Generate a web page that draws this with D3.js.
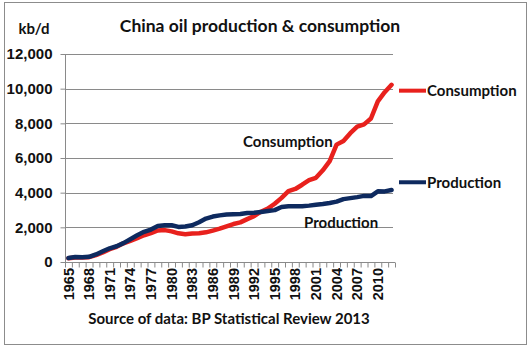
<!DOCTYPE html>
<html>
<head>
<meta charset="utf-8">
<script src="https://cdn.jsdelivr.net/npm/d3@7"></script>
<style>
  html, body { margin: 0; padding: 0; background: #fff; }
  svg { display: block; font-family: Lato, "Open Sans", sans-serif; font-weight: bold; }
</style>
</head>
<body>
<svg id="chart" width="532" height="350"></svg>
<script>
(function () {
  'use strict';

  var years = d3.range(1965, 2013);
  var production = [
    227, 291, 278, 302, 436, 616, 790, 908, 1090, 1315,
    1542, 1739, 1874, 2082, 2122, 2122, 2024, 2045, 2120, 2296,
    2505, 2620, 2690, 2741, 2757, 2774, 2828, 2845, 2890, 2939,
    2993, 3170, 3211, 3212, 3213, 3252, 3306, 3346, 3401, 3481,
    3627, 3684, 3743, 3814, 3805, 4077, 4074, 4155
  ];
  var consumption = [
    216, 260, 264, 278, 398, 554, 744, 874, 1076, 1218,
    1373, 1541, 1664, 1818, 1841, 1766, 1655, 1601, 1645, 1659,
    1712, 1812, 1921, 2054, 2191, 2286, 2475, 2643, 2900, 3078,
    3363, 3700, 4087, 4214, 4457, 4718, 4858, 5288, 5814, 6772,
    6984, 7432, 7808, 7941, 8278, 9266, 9796, 10221
  ];
  var yTicks = [0, 2000, 4000, 6000, 8000, 10000, 12000];
  var labelYears = d3.range(1965, 2013, 3);

  var svg = d3.select('#chart');
  var left = 65, right = 395, top = 54, bottom = 262;

  var x = d3.scaleBand().domain(years).range([left, right]);
  var xEdge = d3.scaleLinear().domain([0, years.length]).range([left, right]);
  var y = d3.scaleLinear().domain([0, 12000]).range([bottom, top]);

  // Outer frame
  svg.append('rect')
    .attr('x', 4.5).attr('y', 2.5)
    .attr('width', 522).attr('height', 342)
    .attr('fill', 'none').attr('stroke', '#8c8c8c');

  // Gridlines
  svg.append('g').selectAll('line')
    .data(yTicks.slice(1))
    .join('line')
    .attr('x1', left).attr('x2', right - 2)
    .attr('y1', function (d) { return Math.round(y(d)) + 0.5; })
    .attr('y2', function (d) { return Math.round(y(d)) + 0.5; })
    .attr('stroke', '#8a8a8a');

  // Y axis
  var yAxis = svg.append('g')
    .attr('transform', 'translate(' + (left + 0.5) + ',0)')
    .call(d3.axisLeft(y).tickValues(yTicks).tickSize(5).tickPadding(8).tickFormat(d3.format(',')));
  yAxis.selectAll('text').attr('font-size', 15).attr('fill', '#111');
  yAxis.selectAll('line, path').attr('stroke', '#8a8a8a');
  yAxis.select('.domain').attr('d', 'M0,' + top + 'V' + bottom);

  // X axis: tick marks at category edges
  var xTicks = svg.append('g')
    .attr('transform', 'translate(0,' + (bottom + 0.5) + ')')
    .call(d3.axisBottom(xEdge).ticks(years.length).tickSize(5).tickFormat(''));
  xTicks.selectAll('line, path').attr('stroke', '#8a8a8a');
  xTicks.select('.domain').attr('d', 'M' + left + ',0H' + right);

  // X labels every third year
  var xLabels = svg.append('g')
    .attr('transform', 'translate(0,' + (bottom + 6) + ')')
    .call(d3.axisBottom(x).tickValues(labelYears).tickSize(0).tickPadding(0));
  xLabels.select('.domain').remove();
  xLabels.selectAll('text')
    .attr('font-size', 14.5)
    .attr('fill', '#111')
    .attr('transform', 'rotate(-90)')
    .attr('text-anchor', 'end')
    .attr('x', 0).attr('y', 0)
    .attr('dx', 0).attr('dy', '0.35em');

  // Lines
  var line = function (vals) {
    return d3.line()
      .x(function (d, i) { return x(years[i]) + x.bandwidth() / 2; })
      .y(function (d) { return y(d); })(vals);
  };
  var red = '#e8211d', navy = '#0e2a5f';

  svg.append('path')
    .attr('d', line(consumption))
    .attr('fill', 'none').attr('stroke', red)
    .attr('stroke-width', 4.5).attr('stroke-linejoin', 'round').attr('stroke-linecap', 'round');
  svg.append('path')
    .attr('d', line(production))
    .attr('fill', 'none').attr('stroke', navy)
    .attr('stroke-width', 4.5).attr('stroke-linejoin', 'round').attr('stroke-linecap', 'round');

  // End labels with legend stubs
  var endLabels = [
    { name: 'Consumption', color: red, yv: y(10000) + 2 },
    { name: 'Production', color: navy, yv: y(4600) }
  ];
  endLabels.forEach(function (d) {
    svg.append('line')
      .attr('x1', 399).attr('x2', 426)
      .attr('y1', d.yv).attr('y2', d.yv)
      .attr('stroke', d.color).attr('stroke-width', 4);
    svg.append('text')
      .attr('x', 427).attr('y', d.yv).attr('dy', '0.35em')
      .attr('font-size', 15).attr('fill', '#111')
      .text(d.name);
  });

  // In-plot labels
  svg.append('text').attr('x', 243).attr('y', 142).attr('dy', '0.35em')
    .attr('font-size', 15).attr('fill', '#111').text('Consumption');
  svg.append('text').attr('x', 304).attr('y', 223).attr('dy', '0.35em')
    .attr('font-size', 15).attr('fill', '#111').text('Production');

  // Titles
  svg.append('text').attr('x', 260).attr('y', 26).attr('dy', '0.35em')
    .attr('text-anchor', 'middle').attr('font-size', 17.5).attr('fill', '#111')
    .text('China oil production & consumption');
  svg.append('text').attr('x', 34).attr('y', 29).attr('dy', '0.35em')
    .attr('text-anchor', 'middle').attr('font-size', 15).attr('fill', '#111')
    .text('kb/d');
  svg.append('text').attr('x', 229).attr('y', 319).attr('dy', '0.35em')
    .attr('text-anchor', 'middle').attr('font-size', 15).attr('fill', '#111')
    .text('Source of data: BP Statistical Review 2013');
})();
</script>
</body>
</html>
